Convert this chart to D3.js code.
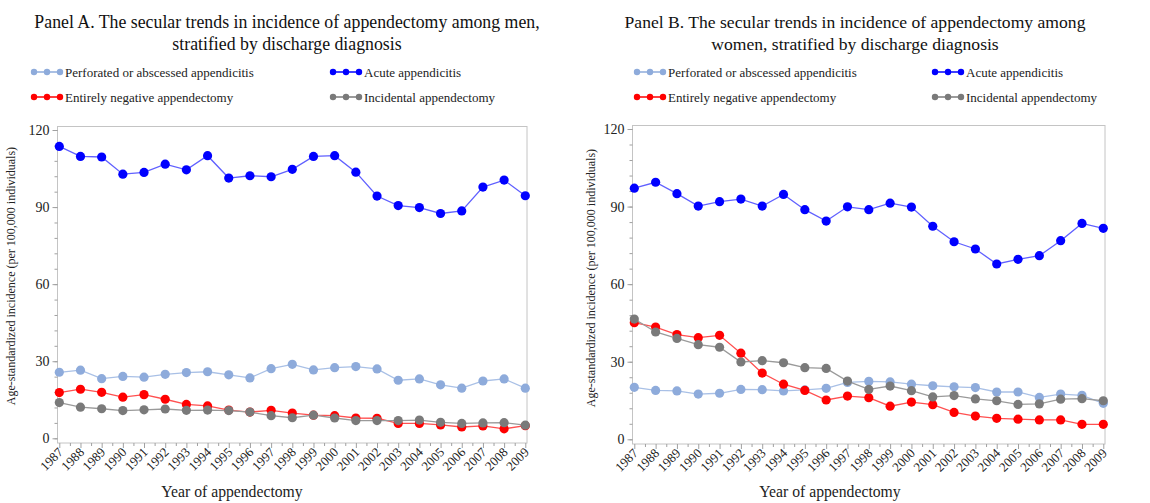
<!DOCTYPE html>
<html>
<head>
<meta charset="utf-8">
<script src="https://cdn.jsdelivr.net/npm/d3@7"></script>
<style>
  body { margin: 0; background: #fff; }
  svg { display: block; font-family: "Liberation Serif", "Times New Roman", serif; }
  svg text { font-family: "Liberation Serif", "Times New Roman", serif; }
  .frame { fill: none; stroke: #c4c4c4; stroke-width: 1; }
  .tick line { stroke: #a0a0a0; }
</style>
</head>
<body>
<div id="chart"></div>
<script>
// data
var years = [1987,1988,1989,1990,1991,1992,1993,1994,1995,1996,1997,1998,
             1999,2000,2001,2002,2003,2004,2005,2006,2007,2008,2009];

// Panel A, men
var menPerforated = [25.7,26.5,23.2,24.1,23.8,24.9,25.6,25.9,24.7,23.5,27.1,28.8,
                     26.6,27.5,27.9,27.0,22.6,23.1,20.8,19.5,22.3,23.1,19.5];
var menAcute = [113.6,109.7,109.5,102.8,103.5,106.7,104.5,110.0,101.3,102.2,101.8,104.7,
                109.7,110.0,103.6,94.3,90.6,89.8,87.5,88.5,97.8,100.5,94.4];
var menNegative = [17.8,19.1,17.9,16.0,17.0,15.2,13.2,12.6,11.0,10.2,10.9,9.8,
                   9.0,8.8,7.9,7.8,5.8,5.8,5.2,4.4,4.8,3.7,4.9];
var menIncidental = [13.9,12.1,11.5,10.8,11.1,11.4,10.9,11.0,10.8,10.2,8.8,8.0,
                     9.0,7.9,6.9,6.9,6.9,7.1,6.2,5.8,6.0,6.1,5.1];

// Panel B, women
var womenPerforated = [20.1,18.9,18.7,17.5,17.8,19.3,19.2,18.7,19.1,19.7,22.0,22.4,
                       22.2,21.3,20.7,20.3,20.0,18.3,18.3,16.2,17.5,17.0,13.9];
var womenAcute = [97.1,99.4,95.0,90.2,91.9,92.9,90.2,94.7,88.8,84.4,89.9,88.8,
                  91.3,89.8,82.4,76.4,73.6,67.8,69.6,71.0,76.8,83.5,81.6];
var womenNegative = [45.1,43.4,40.5,39.3,40.2,33.3,25.6,21.3,18.9,15.2,16.7,16.1,
                     12.8,14.4,13.4,10.4,9.0,8.1,7.8,7.5,7.5,5.8,5.8];
var womenIncidental = [46.5,41.5,39.0,36.6,35.6,29.9,30.4,29.6,27.7,27.4,22.5,19.3,
                       20.6,18.8,16.4,16.9,15.6,14.9,13.5,13.7,15.5,15.7,14.9];

var seriesNames = ["Perforated or abscessed appendicitis", "Acute appendicitis",
                   "Entirely negative appendectomy", "Incidental appendectomy"];
var yTicks = [0, 30, 60, 90, 120];

var styles = [
  {dot: "#8eabdb", line: "#a9c0e6"},
  {dot: "#0000ff", line: "#6060ff"},
  {dot: "#ff0000", line: "#ff5050"},
  {dot: "#7a7a7a", line: "#9a9a9a"}
];

var serif = '"Liberation Serif", "Times New Roman", serif';
var svg = d3.select("#chart").append("svg").attr("width", 1150).attr("height", 503);

var drawPanel = function(p) {
  var g = svg.append("g");
  var x = d3.scaleLinear().domain([years[0], years[years.length - 1]]).range(p.xr);
  var y = d3.scaleLinear().domain([0, 120]).range(p.yr);

  // titles
  p.title.forEach(function(t, i) {
    g.append("text").attr("x", p.cx).attr("y", 28 + i * 22)
      .attr("text-anchor", "middle").style("font-size", p.titleSize + "px").attr("fill", "#111").text(t);
  });

  // legend
  p.legend.forEach(function(l, i) {
    var lg = g.append("g").attr("transform", "translate(" + l[0] + "," + l[1] + ")");
    lg.append("line").attr("x1", 0).attr("x2", 26).attr("stroke", styles[i].dot).attr("stroke-width", 1.5);
    [0, 13, 26].forEach(function(cx) {
      lg.append("circle").attr("cx", cx).attr("r", 3.2).attr("fill", styles[i].dot);
    });
    lg.append("text").attr("x", 31).attr("y", 4.5).style("font-size", "13px").attr("fill", "#222").text(seriesNames[i]);
  });

  // frame
  g.append("rect").attr("class", "frame")
    .attr("x", p.frame[0]).attr("y", p.frame[1])
    .attr("width", p.frame[2] - p.frame[0]).attr("height", p.frame[3] - p.frame[1]);

  // y axis
  var ya = g.append("g").attr("transform", "translate(" + p.frame[0] + ",0)");
  ya.call(d3.axisLeft(y).tickValues(d3.range(0, 121, 6)).tickSize(3).tickFormat(""))
    .call(function(s) { s.select(".domain").remove(); });
  ya.append("g").call(d3.axisLeft(y).tickValues(yTicks).tickSize(5).tickPadding(3))
    .call(function(s) {
      s.select(".domain").remove();
      s.selectAll("text").style("font-size", "14px").attr("fill", "#222").style("font-family", serif);
    });

  // x axis
  var xa = g.append("g").attr("transform", "translate(0," + p.frame[3] + ")");
  var halfYears = years.slice(0, -1).map(function(v) { return v + 0.5; });
  xa.call(d3.axisBottom(x).tickValues(halfYears).tickSize(3).tickFormat(""))
    .call(function(s) { s.select(".domain").remove(); });
  xa.append("g").call(d3.axisBottom(x).tickValues(years).tickSize(5).tickFormat(d3.format("d")))
    .call(function(s) {
      s.select(".domain").remove();
      s.selectAll("text").style("font-size", "13px").attr("fill", "#222")
        .style("font-family", serif)
        .attr("text-anchor", "end").attr("dy", null).attr("y", null)
        .attr("transform", "translate(4,10) rotate(-45)");
    });

  // axis titles
  g.append("text").attr("transform", "translate(" + p.ylx + "," + p.yly + ") rotate(-90)")
    .attr("text-anchor", "middle").style("font-size", "12px").attr("fill", "#222")
    .text("Age-standardized incidence  (per 100,000 individuals)");
  g.append("text").attr("x", p.xlx).attr("y", 497).attr("text-anchor", "middle")
    .style("font-size", "15.7px").attr("fill", "#222").text("Year of appendectomy");

  // series
  var line = d3.line().x(function(d, i) { return x(years[i]); }).y(function(d) { return y(d); });
  p.series.forEach(function(vals, k) {
    var sg = g.append("g");
    sg.append("path").attr("d", line(vals)).attr("fill", "none")
      .attr("stroke", styles[k].line).attr("stroke-width", 1.3);
    sg.selectAll("circle").data(vals).enter().append("circle")
      .attr("cx", function(d, i) { return x(years[i]); })
      .attr("cy", function(d) { return y(d); })
      .attr("r", 4.6).attr("fill", styles[k].dot);
  });
};

drawPanel({
  title: ["Panel A. The secular trends in incidence of appendectomy among men,",
          "stratified by discharge diagnosis"],
  cx: 287, titleSize: 17.8,
  legend: [[34, 72], [333, 72], [34, 97], [333, 97]],
  xr: [59.3, 525.3], yr: [438.3, 130],
  frame: [57.5, 126.5, 527, 443],
  ylx: 15, yly: 276, xlx: 232,
  series: [menPerforated, menAcute, menNegative, menIncidental]
});

drawPanel({
  title: ["Panel B. The secular trends in incidence of appendectomy among",
          "women, stratified by discharge diagnosis"],
  cx: 855, titleSize: 17.6,
  legend: [[637, 72], [935, 72], [637, 97], [935, 97]],
  xr: [634.3, 1103.3], yr: [439.3, 129],
  frame: [632.5, 125.5, 1105, 444],
  ylx: 595, yly: 278, xlx: 830,
  series: [womenPerforated, womenAcute, womenNegative, womenIncidental]
});
</script>
</body>
</html>
